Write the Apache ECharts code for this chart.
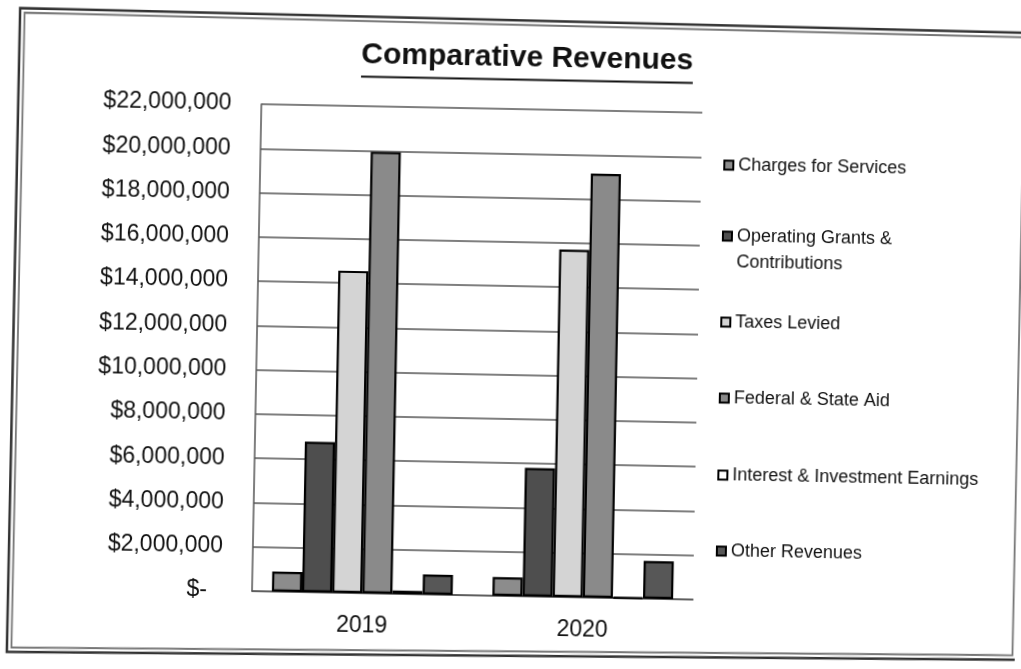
<!DOCTYPE html>
<html>
<head>
<meta charset="utf-8">
<title>Comparative Revenues</title>
<script src="https://cdn.jsdelivr.net/npm/echarts@6/dist/echarts.min.js"></script>
<style>
  html, body { margin: 0; padding: 0; background: #fff; overflow: hidden; }
  #page {
    width: 1021px; height: 669px;
    transform: rotate(1.1deg);
    transform-origin: 510px 335px;
  }
</style>
</head>
<body>
<div id="page"></div>
<script>
// Fiscal years on the category axis
const years = ['2019', '2020'];

// Revenue sources, in legend order
const sources = [
  'Charges for Services',
  'Operating Grants & Contributions',
  'Taxes Levied',
  'Federal & State Aid',
  'Interest & Investment Earnings',
  'Other Revenues'
];

// Amounts per source, [2019, 2020]
const chargesForServices = [900000, 850000];
const operatingGrants = [6800000, 5800000];
const taxesLevied = [14550000, 15700000];
const federalStateAid = [19950000, 19150000];
const interestEarnings = [150000, 40000];
const otherRevenues = [900000, 1700000];

// Value axis ticks
const yMin = 0;
const yMax = 22000000;
const yStep = 2000000;

const values = [chargesForServices, operatingGrants, taxesLevied, federalStateAid, interestEarnings, otherRevenues];
const colors = ['#8c8c8c', '#4e4e4e', '#d4d4d4', '#8a8a8a', '#ffffff', '#575757'];

const FONT = '"Liberation Sans", Arial, Helvetica, sans-serif';
const TITLE = 'Comparative Revenues';
const TITLE_SIZE = 30;
const TITLE_CX = 522;
const TITLE_CY = 58;

// measure the title so the underline spans the text
const ctx = document.createElement('canvas').getContext('2d');
ctx.font = 'bold ' + TITLE_SIZE + 'px ' + FONT;
const titleW = ctx.measureText(TITLE).width;

// vertical centres of the legend markers
const legendMarkerY = [161, 232, 318, 394, 471, 547];

const money = v => '$' + String(v).replace(/\B(?=(\d{3})+(?!\d))/g, ',');

const legends = sources.map((name, i) => {
  const twoLine = name.indexOf('& C') >= 0;
  return {
    data: [name],
    orient: 'vertical',
    left: 720,
    top: twoLine ? legendMarkerY[i] - 39 : legendMarkerY[i] - 10,
    padding: 0,
    itemWidth: 9,
    itemHeight: 9,
    icon: 'rect',
    selectedMode: false,
    formatter: n => (n.indexOf('& C') >= 0 ? '\n' + n.replace('& C', '&\nC') : n),
    textStyle: {
      fontFamily: FONT,
      fontSize: 18,
      color: '#111',
      lineHeight: twoLine ? 26 : 20
    }
  };
});

const chart = echarts.init(document.getElementById('page'), null, { renderer: 'canvas' });

chart.setOption({
  backgroundColor: '#fff',
  animation: false,
  title: {
    text: TITLE,
    left: TITLE_CX - titleW / 2,
    top: TITLE_CY - 15,
    padding: 0,
    textStyle: {
      fontFamily: FONT,
      fontSize: TITLE_SIZE,
      fontWeight: 'bold',
      color: '#111',
      lineHeight: 30
    }
  },
  legend: legends,
  grid: { left: 257, right: 323, top: 109, bottom: 73, containLabel: false },
  xAxis: {
    type: 'category',
    data: years,
    axisLine: { show: true, lineStyle: { color: '#555', width: 1.5 } },
    axisTick: { show: false },
    axisLabel: { fontFamily: FONT, fontSize: 23, color: '#111', margin: 21 }
  },
  yAxis: {
    type: 'value',
    min: yMin,
    max: yMax,
    interval: yStep,
    axisLine: { show: true, lineStyle: { color: '#555', width: 1.5 } },
    axisTick: { show: false },
    splitLine: { show: true, lineStyle: { color: '#555', width: 1.5 } },
    axisLabel: {
      fontFamily: FONT,
      fontSize: 23,
      color: '#111',
      margin: 30,
      formatter: v => (v === 0 ? '{z|$-}' : money(v)),
      rich: {
        z: { fontFamily: FONT, fontSize: 23, color: '#111', padding: [0, 15, 0, 0] }
      }
    }
  },
  series: sources.map((name, i) => ({
    name: name,
    type: 'bar',
    data: values[i],
    barGap: '0%',
    barCategoryGap: '18%',
    itemStyle: { color: colors[i], borderColor: '#000', borderWidth: 2.2 }
  })),
  graphic: [
    // double-ruled frame around the chart
    {
      type: 'polygon', z: -1, silent: true,
      shape: { points: [[14, 17.5], [13, 661.5], [1023, 650], [1024, 23]] },
      style: { fill: 'none', stroke: '#333', lineWidth: 2.5 }
    },
    {
      type: 'polygon', z: -1, silent: true,
      shape: { points: [[18.5, 22], [17.5, 657], [1018.5, 645.5], [1019.5, 27.5]] },
      style: { fill: 'none', stroke: '#777', lineWidth: 1.8 }
    },
    // title underline
    {
      type: 'line', silent: true,
      shape: { x1: TITLE_CX - titleW / 2, y1: 79.5, x2: TITLE_CX + titleW / 2, y2: 79.5 },
      style: { stroke: '#111', lineWidth: 2 }
    }
  ]
});
</script>
</body>
</html>
